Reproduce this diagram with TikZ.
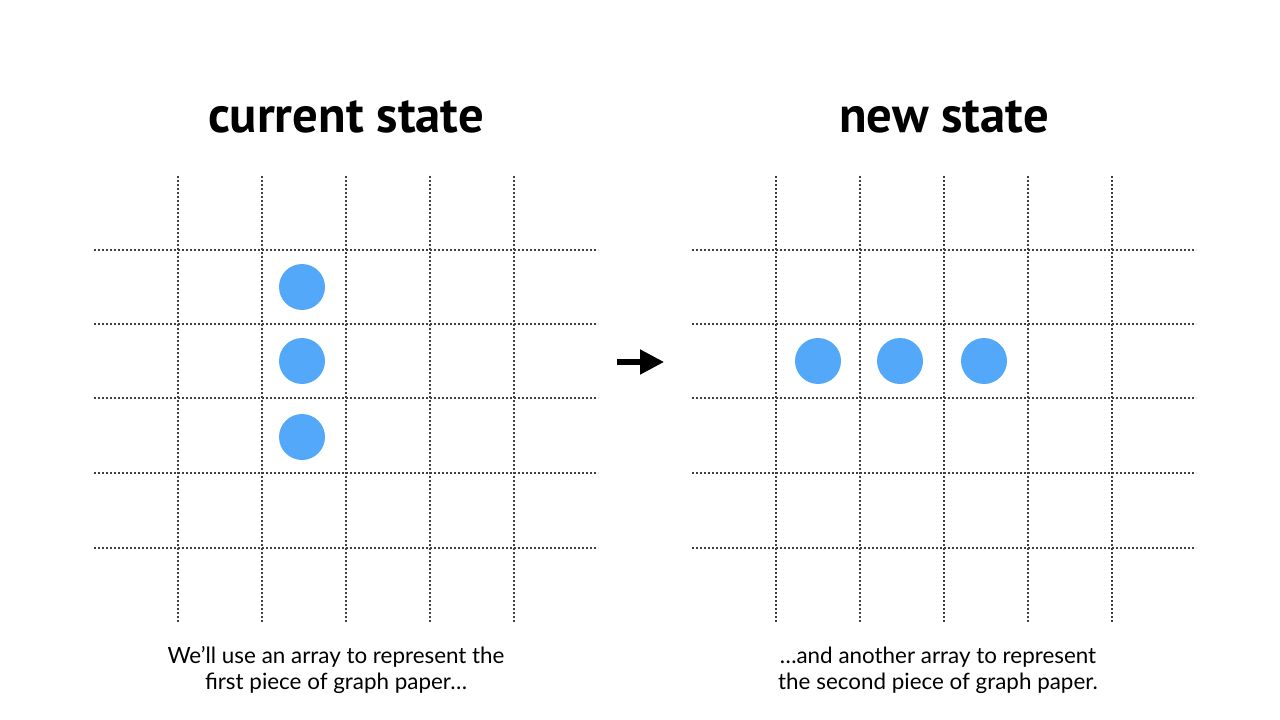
\documentclass[tikz,border=0pt]{standalone}
\usepackage{fontspec}
\setmainfont{PT Sans}
\newfontfamily\capfont{Lato}
\usetikzlibrary{arrows.meta}
\definecolor{dotblue}{HTML}{53A8F9}
\tikzset{
  gridline/.style={black!75, line width=0.9pt, dash pattern=on 1.2pt off 1.8pt},
  dotcell/.style={circle, fill=dotblue, minimum size=34.5pt, inner sep=0pt},
  title/.style={font=\bfseries\fontsize{38}{46}\selectfont},
  caption/.style={font=\capfont\fontsize{16.8}{19.5}\selectfont, align=center},
}
\begin{document}
\begin{tikzpicture}[x=0.75pt,y=-0.75pt]
\useasboundingbox (0,0) rectangle (1280,720);
% left grid
\foreach \x in {178,262,346,430,514} \draw[gridline] (\x,176) -- (\x,622);
\foreach \y in {250,324,398,473,548} \draw[gridline] (94,\y) -- (598,\y);
% right grid
\foreach \x in {776,860,944,1028,1112} \draw[gridline] (\x,176) -- (\x,622);
\foreach \y in {250,324,398,473,548} \draw[gridline] (692,\y) -- (1196,\y);
% titles
\node[title] (t1) at (346,117) {current state};
\node[title] (t2) at (944,117) {new state};
% dots
\node[dotcell] (a1) at (302,287) {};
\node[dotcell] (a2) at (302,361) {};
\node[dotcell] (a3) at (302,437) {};
\node[dotcell] (b1) at (818,361) {};
\node[dotcell] (b2) at (900,361) {};
\node[dotcell] (b3) at (984,361) {};
% arrow
\coordinate (as) at (617,362);
\coordinate (ae) at (664,362);
\draw[line width=3.8pt, -{Triangle[length=18pt,width=18pt]}] (as) -- (ae);
% captions
\node[caption] (c1) at (336,670) {We’ll use an array to represent the\\first piece of graph paper…};
\node[caption] (c2) at (938,670) {…and another array to represent\\the second piece of graph paper.};
\end{tikzpicture}
\end{document}
